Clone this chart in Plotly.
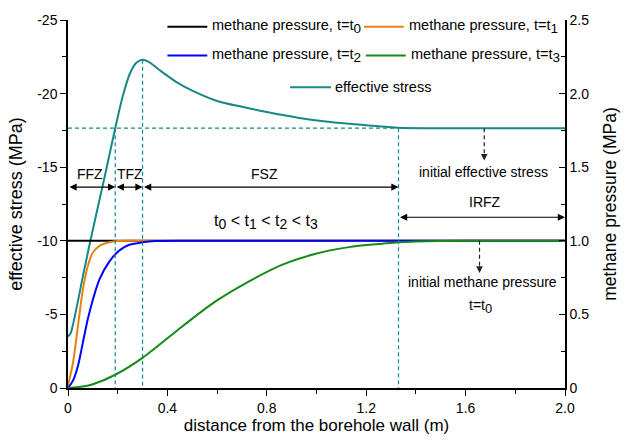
import plotly.graph_objects as go

# ---------------- data ----------------
x_t0 = [0.0, 2.0]
p_t0 = [1.0, 1.0]

x_t1 = [0, 0.02, 0.04, 0.06, 0.08, 0.10, 0.127, 0.167, 0.20, 0.25, 0.4, 2.0]
p_t1 = [0.02, 0.17, 0.42, 0.67, 0.83, 0.92, 0.966, 0.99, 0.998, 1.0, 1.0, 1.0]

x_t2 = [0, 0.02, 0.04, 0.06, 0.08, 0.10, 0.127, 0.167, 0.207, 0.247, 0.30, 0.35, 0.5, 2.0]
p_t2 = [0, 0.05, 0.15, 0.31, 0.47, 0.60, 0.74, 0.86, 0.935, 0.973, 0.99, 0.998, 1.0, 1.0]

x_t3 = [0, 0.06, 0.10, 0.19, 0.30, 0.461, 0.595, 0.729, 0.863, 0.997, 1.13, 1.264, 1.33, 1.5, 1.7, 2.0]
p_t3 = [0, 0.01, 0.025, 0.09, 0.205, 0.42, 0.59, 0.725, 0.838, 0.912, 0.957, 0.98, 0.99, 0.999, 1.0, 1.0]

x_s = [0, 0.01, 0.02, 0.04, 0.06, 0.08, 0.09, 0.127, 0.154, 0.19, 0.22, 0.25, 0.275, 0.30,
       0.325, 0.368, 0.435, 0.50, 0.60, 0.70, 0.80, 0.93, 1.064, 1.20, 1.33, 1.45, 1.7, 2.0]
stress = [-3.5, -3.7, -4.3, -5.9, -7.6, -9.2, -10.0, -12.8, -14.85, -17.65, -19.8, -21.4, -22.1, -22.3,
          -22.15, -21.6, -20.8, -20.2, -19.5, -19.1, -18.75, -18.35, -18.05, -17.85, -17.68, -17.65, -17.65, -17.65]

zone_bounds = [0.19, 0.30, 1.33]
peak_stress = -22.3
initial_stress = -17.65
initial_pressure = 1.0

x_ticks = [0, 0.4, 0.8, 1.2, 1.6, 2.0]
x_ticktext = ["0", "0.4", "0.8", "1.2", "1.6", "2.0"]
y1_ticks = [0, -5, -10, -15, -20, -25]
y1_ticktext = ["0", "-5", "-10", "-15", "-20", "-25"]
y2_ticks = [0, 0.5, 1.0, 1.5, 2.0, 2.5]
y2_ticktext = ["0", "0.5", "1.0", "1.5", "2.0", "2.5"]

# ---------------- styles ----------------
C_BLACK = "#000000"
C_ORANGE = "#E8820C"
C_BLUE = "#0000FF"
C_GREEN = "#168A16"
C_TEAL = "#178787"
FONT = "Liberation Sans, Arial, sans-serif"


def sub(d, size):
    return "<sub><span style='font-size:%spx'>%s</span></sub>" % (size, d)


fig = go.Figure()
fig.add_trace(go.Scatter(x=x_t0, y=p_t0, mode="lines", yaxis="y2",
                         line=dict(color=C_BLACK, width=2), name="t0"))
fig.add_trace(go.Scatter(x=x_t1, y=p_t1, mode="lines", yaxis="y2",
                         line=dict(color=C_ORANGE, width=2, shape="spline", smoothing=0.8), name="t1"))
fig.add_trace(go.Scatter(x=x_t2, y=p_t2, mode="lines", yaxis="y2",
                         line=dict(color=C_BLUE, width=2, shape="spline", smoothing=0.8), name="t2"))
fig.add_trace(go.Scatter(x=x_t3, y=p_t3, mode="lines", yaxis="y2",
                         line=dict(color=C_GREEN, width=2, shape="spline", smoothing=0.8), name="t3"))
fig.add_trace(go.Scatter(x=x_s, y=stress, mode="lines", yaxis="y",
                         line=dict(color=C_TEAL, width=2, shape="spline", smoothing=0.8), name="stress"))

shapes = []
dash = dict(color=C_TEAL, width=1.2, dash="4px,3px")
shapes.append(dict(type="line", xref="x", yref="y", x0=0, x1=zone_bounds[2],
                   y0=initial_stress, y1=initial_stress, line=dash))
shapes.append(dict(type="line", xref="x", yref="y", x0=zone_bounds[0], x1=zone_bounds[0],
                   y0=initial_stress, y1=0, line=dash))
shapes.append(dict(type="line", xref="x", yref="y", x0=zone_bounds[1], x1=zone_bounds[1],
                   y0=peak_stress, y1=0, line=dash))
shapes.append(dict(type="line", xref="x", yref="y", x0=zone_bounds[2], x1=zone_bounds[2],
                   y0=initial_stress, y1=0, line=dash))
shapes.append(dict(type="line", xref="x", yref="y", x0=1.675, x1=1.675,
                   y0=initial_stress, y1=-15.6, line=dict(color="#222", width=1.2, dash="4px,3px")))
shapes.append(dict(type="line", xref="x", yref="y2", x0=1.656, x1=1.656,
                   y0=initial_pressure, y1=0.8, line=dict(color="#222", width=1.2, dash="4px,3px")))

def xp(px):
    return (px - 68.3) / 498.4

def yp(py):
    return (389.3 - py) / 371.0

legend_items = [
    (168, 208, 25, 211, C_BLACK, "methane pressure, t=t" + sub("0", 13.5)),
    (365, 405, 25, 408, C_ORANGE, "methane pressure, t=t" + sub("1", 13.5)),
    (168, 208, 54, 211, C_BLUE, "methane pressure, t=t" + sub("2", 13.5)),
    (367, 407, 54, 410, C_GREEN, "methane pressure, t=t" + sub("3", 13.5)),
    (291, 332, 86, 334, C_TEAL, "effective stress"),
]
annotations = []
for a, b, yy, tx, col, txt in legend_items:
    shapes.append(dict(type="line", xref="paper", yref="paper", x0=xp(a), x1=xp(b),
                       y0=yp(yy), y1=yp(yy), line=dict(color=col, width=2)))
    annotations.append(dict(xref="paper", yref="paper", x=xp(tx), y=yp(yy), text=txt,
                            showarrow=False, xanchor="left", yanchor="middle",
                            font=dict(size=14.5, color="#000", family=FONT)))

def dbl(x0, x1, y):
    return dict(xref="x", yref="y", axref="x", ayref="y", x=x1, y=y, ax=x0, ay=y,
                text="", showarrow=True, arrowhead=2, startarrowhead=2, arrowside="end+start",
                arrowsize=1.2, startarrowsize=1.2, arrowwidth=1.2, arrowcolor="#000",
                standoff=0, startstandoff=0)

annotations.append(dbl(0, zone_bounds[0], -13.65))
annotations.append(dbl(zone_bounds[0], zone_bounds[1], -13.65))
annotations.append(dbl(zone_bounds[1], zone_bounds[2], -13.65))
annotations.append(dbl(zone_bounds[2], 2.0, -11.6))

def label(x, y, txt, size=14, yref="y"):
    return dict(xref="x", yref=yref, x=x, y=y, text=txt, showarrow=False,
                xanchor="center", yanchor="middle", font=dict(size=size, color="#000", family=FONT))

annotations.append(label(0.09, -14.55, "FFZ"))
annotations.append(label(0.25, -14.55, "TFZ"))
annotations.append(label(0.79, -14.55, "FSZ"))
annotations.append(label(1.68, -12.64, "IRFZ"))
annotations.append(label(0.795, -11.25,
                         "t" + sub("0", 14) + " &lt; t" + sub("1", 14) + " &lt; t" + sub("2", 14)
                         + " &lt; t" + sub("3", 14), size=16))
annotations.append(label(1.672, -14.66, "initial effective stress", size=14))
annotations.append(label(1.666, 0.721, "initial methane pressure", size=14, yref="y2"))
annotations.append(label(1.659, 0.555, "t=t" + sub("0", 13), size=14, yref="y2"))

annotations.append(dict(xref="x", yref="y", axref="x", ayref="y", x=1.675, y=-15.45, ax=1.675, ay=-15.9,
                        text="", showarrow=True, arrowhead=2, arrowsize=1.1, arrowwidth=1.2,
                        arrowcolor="#222", standoff=0))
annotations.append(dict(xref="x", yref="y2", axref="x", ayref="y2", x=1.656, y=0.782, ax=1.656, ay=0.83,
                        text="", showarrow=True, arrowhead=2, arrowsize=1.1, arrowwidth=1.2,
                        arrowcolor="#222", standoff=0))

axis_common = dict(showgrid=False, zeroline=False, showline=True, linecolor="#000", linewidth=1.5,
                   tickcolor="#000", tickwidth=1.3, tickfont=dict(size=14, color="#000", family=FONT))

fig.update_layout(
    width=629, height=444,
    margin=dict(l=68, r=62, t=18, b=55),
    paper_bgcolor="white", plot_bgcolor="white",
    showlegend=False,
    font=dict(family=FONT, color="#000"),
    xaxis=dict(range=[0, 2.0], tickmode="array", tickvals=x_ticks, ticktext=x_ticktext,
               ticks="outside", ticklen=6,
               minor=dict(tickmode="array", tickvals=[0.2, 0.6, 1.0, 1.4, 1.8], ticks="outside",
                          ticklen=4, tickcolor="#000", tickwidth=1.3),
               title=dict(text="distance from the borehole wall (m)", font=dict(size=17, family=FONT), standoff=5),
               **axis_common),
    yaxis=dict(range=[0, -25], tickmode="array", tickvals=y1_ticks, ticktext=y1_ticktext,
               ticks="outside", ticklen=6,
               minor=dict(tickmode="array", tickvals=[-2.5, -7.5, -12.5, -17.5, -22.5], ticks="outside",
                          ticklen=4, tickcolor="#000", tickwidth=1.3),
               title=dict(text="effective stress (MPa)", font=dict(size=18, family=FONT), standoff=10),
               **axis_common),
    yaxis2=dict(range=[0, 2.5], overlaying="y", side="right", tickmode="array", tickvals=y2_ticks,
                ticktext=y2_ticktext, ticks="inside", ticklen=6,
                minor=dict(tickmode="array", tickvals=[0.25, 0.75, 1.25, 1.75, 2.25], ticks="inside",
                           ticklen=4, tickcolor="#000", tickwidth=1.3),
                title=dict(text="methane pressure (MPa)", font=dict(size=17.5, family=FONT), standoff=16),
                **axis_common),
    shapes=shapes,
    annotations=annotations,
)

fig.write_html("out.html")
